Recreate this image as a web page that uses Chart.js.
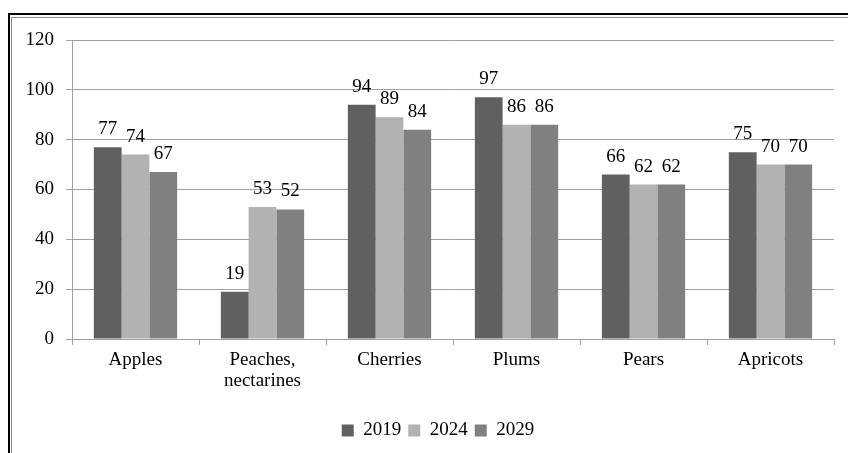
<!DOCTYPE html>
<html>
<head>
<meta charset="utf-8">
<title>Fruit chart</title>
<script src="https://cdn.jsdelivr.net/npm/chart.js@4/dist/chart.umd.min.js"></script>
<style>
    html, body { margin: 0; padding: 0; background: #fff; overflow: hidden; }
    .wrap { position: relative; width: 848px; height: 453px; }
    .frame-outer { position: absolute; left: 8px; top: 13px; width: 1000px; height: 1000px; border: 2px solid #000; }
    .frame-inner { position: absolute; left: 1px; top: 2px; right: 0; bottom: 0; border-left: 1px solid #8c8c8c; border-top: 1px solid #8c8c8c; }
    canvas { position: absolute; left: 0; top: 0; }
</style>
</head>
<body>
<div class="wrap">
    <div class="frame-outer"><div class="frame-inner"></div></div>
    <canvas id="fruitChart" width="848" height="453"></canvas>
</div>
<script>
// Dados do gráfico
const categorias = ["Apples", ["Peaches,", "nectarines"], "Cherries", "Plums", "Pears", "Apricots"];
const anos = ["2019", "2024", "2029"];
const valores2019 = [77, 19, 94, 97, 66, 75];
const valores2024 = [74, 53, 89, 86, 62, 70];
const valores2029 = [67, 52, 84, 86, 62, 70];
const ticksY = [0, 20, 40, 60, 80, 100, 120];

const fonte = "'Liberation Serif', 'Times New Roman', serif";
const corGrade = "#a0a0a0";

// Plugin simples para escrever os valores acima das barras
const rotulosValores = {
    id: "rotulosValores",
    afterDatasetsDraw(chart) {
        const ctx = chart.ctx;
        ctx.save();
        ctx.font = "19px " + fonte;
        ctx.fillStyle = "#000";
        ctx.textAlign = "center";
        ctx.textBaseline = "alphabetic";
        chart.data.datasets.forEach((ds, i) => {
            const meta = chart.getDatasetMeta(i);
            meta.data.forEach((bar, j) => {
                ctx.fillText(String(ds.data[j]), bar.x, bar.y - 13);
            });
        });
        ctx.restore();
    }
};

// Desloca a legenda um pouco para a direita (como no original)
const deslocaLegenda = {
    id: "deslocaLegenda",
    afterLayout(chart) {
        if (!chart.legend) return;
        chart.legend.left += 21;
        chart.legend.right += 21;
    }
};

document.addEventListener("DOMContentLoaded", () => {
    inicializarGrafico();
});

function inicializarGrafico() {
    const ctx = document.getElementById("fruitChart");
    if (!ctx) return;

    new Chart(ctx, {
        type: "bar",
        data: {
            labels: categorias,
            datasets: [
                { label: anos[0], data: valores2019, backgroundColor: "#606060" },
                { label: anos[1], data: valores2024, backgroundColor: "#b2b2b2" },
                { label: anos[2], data: valores2029, backgroundColor: "#808080" }
            ]
        },
        options: {
            responsive: false,
            animation: false,
            devicePixelRatio: 1,
            layout: {
                padding: { left: 0, right: 14, top: 40, bottom: 3 }
            },
            datasets: {
                bar: {
                    categoryPercentage: 0.656,
                    barPercentage: 1.0
                }
            },
            plugins: {
                tooltip: { enabled: false },
                legend: {
                    position: "bottom",
                    labels: {
                        color: "#000",
                        boxWidth: 12,
                        boxHeight: 12,
                        padding: 7,
                        font: { family: fonte, size: 19 }
                    }
                }
            },
            scales: {
                x: {
                    grid: {
                        display: true,
                        drawOnChartArea: false,
                        drawTicks: true,
                        tickLength: 6,
                        color: corGrade,
                        offset: true
                    },
                    border: { color: corGrade },
                    ticks: {
                        color: "#000",
                        padding: 5,
                        maxRotation: 0,
                        font: { family: fonte, size: 19, lineHeight: 1.1 }
                    },
                    afterFit: (scale) => { scale.height = 75; }
                },
                y: {
                    min: 0,
                    max: 120,
                    afterBuildTicks: (scale) => {
                        scale.ticks = ticksY.map(v => ({ value: v }));
                    },
                    grid: {
                        color: corGrade,
                        tickLength: 6
                    },
                    border: { color: corGrade },
                    ticks: {
                        color: "#000",
                        padding: 12,
                        font: { family: fonte, size: 19 }
                    },
                    afterFit: (scale) => { scale.width = 72; }
                }
            }
        },
        plugins: [rotulosValores, deslocaLegenda]
    });
}
</script>
</body>
</html>
